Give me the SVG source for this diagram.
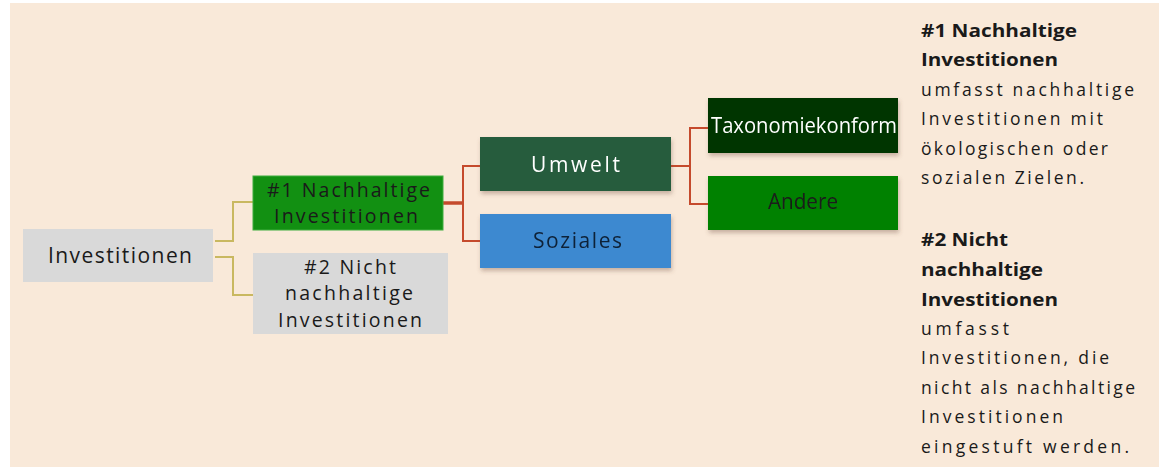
<svg xmlns="http://www.w3.org/2000/svg" width="1169" height="472" viewBox="0 0 1169 472">
<defs>
<filter id="sh" x="-10%" y="-20%" width="130%" height="160%">
<feDropShadow dx="1" dy="3" stdDeviation="2" flood-color="#6b4a3a" flood-opacity="0.35"/>
</filter>
<style>
.t{font-family:"Open Sans","Liberation Sans",Arial,sans-serif;fill:#1a1a1a}
.n{font-size:21px}
.m{font-size:19.5px}
.d{font-size:17.5px}
.b{font-weight:bold}
.w{fill:#ffffff}
.olive{fill:none;stroke:#c9b860;stroke-width:2}
.red{fill:none;stroke:#c54a2c;stroke-width:2}
</style>
</defs>
<rect x="0" y="0" width="1169" height="472" fill="#ffffff"/>
<rect x="10" y="3" width="1149" height="464" fill="#f9e9d9"/>

<g id="connectors">
<path class="olive" d="M215 241 H233 V202 H253"/>
<path class="olive" d="M215 257 H233 V295 H253"/>
<path class="red" d="M443 203 H463" style="stroke-width:3.5"/>
<path class="red" d="M480 166 H463 V241 H480"/>
<path class="red" d="M671 166 H690"/>
<path class="red" d="M708 128 H690 V204 H708"/>
</g>

<g id="node-investitionen">
<rect x="23" y="229" width="190" height="53" fill="#d9d9d9"/>
<text class="t n" x="48" y="263" textLength="144" lengthAdjust="spacing">Investitionen</text>
</g>

<g id="node-nachhaltig">
<rect x="253" y="176" width="190" height="54" fill="#129012" stroke="#3fae3f" stroke-width="1"/>
<text class="t m" x="267" y="197" textLength="163" lengthAdjust="spacing">#1 Nachhaltige</text>
<text class="t m" x="274" y="223" textLength="144" lengthAdjust="spacing">Investitionen</text>
</g>

<g id="node-nicht-nachhaltig">
<rect x="253" y="253" width="195" height="81" fill="#d9d9d9"/>
<text class="t m" x="304" y="274" textLength="92" lengthAdjust="spacing">#2 Nicht</text>
<text class="t m" x="285" y="300" textLength="128" lengthAdjust="spacing">nachhaltige</text>
<text class="t m" x="278" y="327" textLength="144" lengthAdjust="spacing">Investitionen</text>
</g>

<g id="node-umwelt" filter="url(#sh)">
<rect x="480" y="137" width="191" height="54" fill="#275c3e"/>
<text class="t n w" x="531" y="172" textLength="89" lengthAdjust="spacing">Umwelt</text>
</g>

<g id="node-soziales" filter="url(#sh)">
<rect x="480" y="214" width="191" height="54" fill="#3e89d0"/>
<text class="t n" x="533" y="248" textLength="89" lengthAdjust="spacing" style="fill:#0f2238">Soziales</text>
</g>

<g id="node-taxonomiekonform" filter="url(#sh)">
<rect x="708" y="98" width="190" height="55" fill="#023602"/>
<text class="t n w" x="711" y="133" textLength="186" lengthAdjust="spacingAndGlyphs">Taxonomiekonform</text>
</g>

<g id="node-andere" filter="url(#sh)">
<rect x="708" y="176" width="190" height="54" fill="#028102"/>
<text class="t n" x="768" y="209" textLength="70" lengthAdjust="spacingAndGlyphs">Andere</text>
</g>

<g id="legend">
<text class="t d b" x="921" y="37" textLength="156" lengthAdjust="spacingAndGlyphs">#1 Nachhaltige</text>
<text class="t d b" x="921" y="66" textLength="137" lengthAdjust="spacingAndGlyphs">Investitionen</text>
<text class="t d" x="921" y="96" textLength="213" lengthAdjust="spacing">umfasst nachhaltige</text>
<text class="t d" x="921" y="125" textLength="182" lengthAdjust="spacing">Investitionen mit</text>
<text class="t d" x="921" y="155" textLength="187" lengthAdjust="spacing">ökologischen oder</text>
<text class="t d" x="921" y="184" textLength="163" lengthAdjust="spacing">sozialen Zielen.</text>

<text class="t d b" x="921" y="246" textLength="87" lengthAdjust="spacingAndGlyphs">#2 Nicht</text>
<text class="t d b" x="921" y="276" textLength="122" lengthAdjust="spacingAndGlyphs">nachhaltige</text>
<text class="t d b" x="921" y="306" textLength="137" lengthAdjust="spacingAndGlyphs">Investitionen</text>
<text class="t d" x="921" y="335" textLength="88" lengthAdjust="spacing">umfasst</text>
<text class="t d" x="921" y="364" textLength="188" lengthAdjust="spacing">Investitionen, die</text>
<text class="t d" x="921" y="394" textLength="214" lengthAdjust="spacing">nicht als nachhaltige</text>
<text class="t d" x="921" y="423" textLength="142" lengthAdjust="spacing">Investitionen</text>
<text class="t d" x="921" y="453" textLength="208" lengthAdjust="spacing">eingestuft werden.</text>
</g>
</svg>
